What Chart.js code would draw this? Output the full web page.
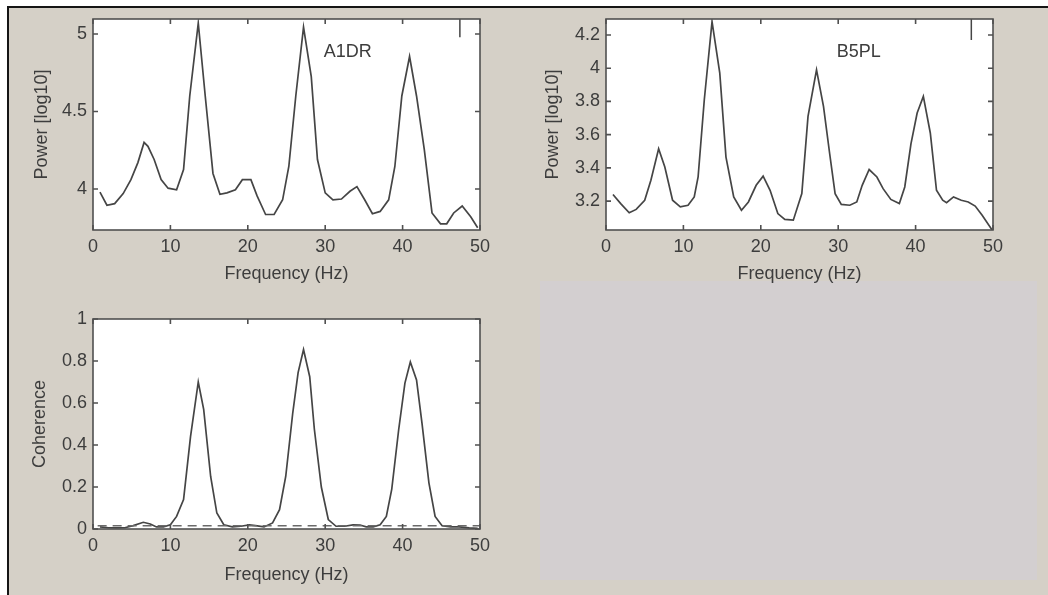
<!DOCTYPE html>
<html>
<head>
<meta charset="utf-8">
<script src="https://cdn.jsdelivr.net/npm/chart.js@4.4.0/dist/chart.umd.min.js"></script>
<style>
  html, body { margin: 0; padding: 0; }
  body { width: 1048px; height: 595px; background: #fff; position: relative; overflow: hidden; }
  #fig { position: absolute; left: 7px; top: 6px; width: 1041px; height: 589px; background: #d5d0c7;
         border-left: 2px solid #151515; border-top: 2px solid #151515; box-sizing: border-box; }
  #blank { position: absolute; left: 540px; top: 281px; width: 497px; height: 299px; background: #d3cfd0; }
  canvas { position: absolute; }
</style>
</head>
<body>
<div id="fig"></div>
<div id="blank"></div>
<canvas id="chartA" width="500" height="290" style="left:0;top:0"></canvas>
<canvas id="chartB" width="533" height="290" style="left:515px;top:0"></canvas>
<canvas id="chartC" width="500" height="305" style="left:0;top:290px"></canvas>
<script>
// ---- datos ----
const freqTicks = [0, 10, 20, 30, 40, 50];

// A1DR power spectrum
const freqA = [0.9, 1.8, 2.8, 3.9, 4.9, 5.8, 6.6, 7.1, 7.9, 8.8, 9.7, 10.8, 11.7, 12.5, 13.6, 14.5, 15.5, 16.4,
  17.3, 18.4, 19.3, 20.4, 21.2, 22.3, 23.4, 24.5, 25.3, 26.2, 27.2, 28.2, 29.0, 30.0, 31.0, 32.1, 33.2, 34.1,
  35.1, 36.1, 37.1, 38.2, 39.0, 39.9, 40.9, 41.8, 42.8, 43.8, 44.9, 45.7, 46.6, 47.7, 48.8, 49.7];
const powerA = [3.98, 3.895, 3.905, 3.97, 4.06, 4.17, 4.30, 4.275, 4.19, 4.06, 4.005, 3.995, 4.125, 4.6, 5.07, 4.6,
  4.10, 3.965, 3.975, 3.995, 4.06, 4.06, 3.955, 3.835, 3.835, 3.93, 4.145, 4.6, 5.045, 4.725, 4.19, 3.975, 3.93,
  3.935, 3.985, 4.015, 3.93, 3.84, 3.855, 3.93, 4.145, 4.6, 4.855, 4.6, 4.255, 3.845, 3.775, 3.775, 3.845, 3.89,
  3.82, 3.75];
const ticksA = [4, 4.5, 5];
const rangeA = [3.735, 5.097];
const markA = [[47.4, 5.097], [47.4, 4.98]];

// B5PL power spectrum
const freqB = [0.9, 1.9, 3.0, 3.9, 5.0, 5.8, 6.8, 7.6, 8.6, 9.6, 10.6, 11.4, 11.9, 12.7, 13.7, 14.7, 15.5, 16.5,
  17.5, 18.4, 19.4, 20.3, 21.2, 22.2, 23.1, 24.2, 25.3, 26.1, 27.2, 28.1, 28.9, 29.6, 30.4, 31.5, 32.4, 33.1,
  34.0, 35.0, 35.8, 36.8, 37.9, 38.6, 39.4, 40.2, 41.0, 41.9, 42.7, 43.5, 44.0, 44.9, 45.9, 46.8, 47.7, 48.6, 49.9];
const powerB = [3.24, 3.185, 3.13, 3.15, 3.205, 3.325, 3.515, 3.405, 3.205, 3.165, 3.175, 3.225, 3.345, 3.81, 4.28,
  3.97, 3.465, 3.225, 3.145, 3.195, 3.295, 3.35, 3.265, 3.125, 3.09, 3.085, 3.245, 3.71, 3.99, 3.77, 3.485, 3.245,
  3.18, 3.175, 3.195, 3.295, 3.39, 3.345, 3.275, 3.21, 3.185, 3.285, 3.545, 3.73, 3.83, 3.61, 3.265, 3.205, 3.19,
  3.225, 3.205, 3.195, 3.17, 3.115, 3.025];
const ticksB = [3.2, 3.4, 3.6, 3.8, 4, 4.2];
const rangeB = [3.026, 4.296];
const markB = [[47.2, 4.296], [47.2, 4.17]];

// coherence
const freqC = [0.9, 2.0, 3.0, 4.1, 5.2, 6.5, 7.4, 8.2, 9.1, 10.0, 10.8, 11.7, 12.6, 13.6, 14.3, 15.2, 16.0, 16.9,
  18.0, 19.1, 20.2, 21.0, 22.1, 23.2, 24.1, 24.9, 25.8, 26.5, 27.2, 28.0, 28.6, 29.5, 30.4, 31.4, 32.5, 33.6,
  34.5, 35.3, 36.2, 37.1, 37.9, 38.6, 39.5, 40.3, 41.0, 41.8, 42.5, 43.4, 44.2, 45.1, 46.2, 47.3, 48.6, 49.7];
const coh = [0.01, 0.006, 0.005, 0.006, 0.016, 0.032, 0.024, 0.01, 0.01, 0.02, 0.06, 0.14, 0.44, 0.70, 0.57,
  0.25, 0.076, 0.02, 0.01, 0.013, 0.02, 0.016, 0.01, 0.029, 0.092, 0.25, 0.55, 0.745, 0.855, 0.725, 0.475, 0.2,
  0.045, 0.013, 0.013, 0.02, 0.019, 0.01, 0.01, 0.02, 0.06, 0.19, 0.475, 0.695, 0.795, 0.71, 0.505, 0.22, 0.06,
  0.016, 0.01, 0.01, 0.005, 0.003];
const ticksC = [0, 0.2, 0.4, 0.6, 0.8, 1];
const cohLevelX = [0.6, 50];
const cohLevelY = [0.016, 0.016];

// ---- estilo ----
const INK = '#3d3d3d';
const LINE = '#454545';
Chart.defaults.font.family = '"Liberation Sans", Arial, sans-serif';
Chart.defaults.font.size = 18;
Chart.defaults.color = INK;

const pts = (xs, ys) => xs.map((x, i) => ({ x: x, y: ys[i] }));

// marco blanco + ticks hacia dentro (estilo MATLAB)
const matlabAxes = {
  id: 'matlabAxes',
  beforeDatasetsDraw(chart) {
    const { ctx, chartArea: a } = chart;
    ctx.save();
    ctx.fillStyle = '#ffffff';
    ctx.fillRect(a.left, a.top, a.right - a.left, a.bottom - a.top);
    ctx.restore();
  },
  afterDatasetsDraw(chart, args, opts) {
    const { ctx, chartArea: a, scales: { x, y } } = chart;
    ctx.save();
    ctx.strokeStyle = '#505050';
    ctx.lineWidth = 1.6;
    ctx.beginPath();
    x.ticks.forEach(t => {
      const px = x.getPixelForValue(t.value);
      ctx.moveTo(px, a.bottom); ctx.lineTo(px, a.bottom - 5);
      ctx.moveTo(px, a.top); ctx.lineTo(px, a.top + 5);
    });
    y.ticks.forEach(t => {
      const py = y.getPixelForValue(t.value);
      ctx.moveTo(a.left, py); ctx.lineTo(a.left + 5, py);
      ctx.moveTo(a.right, py); ctx.lineTo(a.right - 5, py);
    });
    ctx.stroke();
    ctx.strokeRect(a.left, a.top, a.right - a.left, a.bottom - a.top);
    if (opts.label) {
      ctx.fillStyle = INK;
      ctx.font = '18px "Liberation Sans", Arial, sans-serif';
      ctx.textAlign = 'left';
      ctx.textBaseline = 'middle';
      ctx.fillText(opts.label.text, x.getPixelForValue(opts.label.x), y.getPixelForValue(opts.label.y));
    }
    ctx.restore();
  }
};

function makeScales(c) {
  return {
    x: {
      type: 'linear', min: 0, max: 50,
      afterBuildTicks: s => { s.ticks = freqTicks.map(v => ({ value: v })); },
      afterFit: s => { s.height = c.xHeight; },
      grid: { display: false, drawTicks: false },
      border: { display: false },
      ticks: { padding: 6, maxRotation: 0, autoSkip: false, callback: v => String(v) },
      title: { display: true, text: 'Frequency (Hz)', color: INK, padding: { top: 0, bottom: c.xTitlePad } }
    },
    y: {
      type: 'linear', min: c.range[0], max: c.range[1],
      afterBuildTicks: s => { s.ticks = c.ticks.map(v => ({ value: v })); },
      afterFit: s => { s.width = c.yWidth; },
      grid: { display: false, drawTicks: false },
      border: { display: false },
      ticks: { padding: 6, autoSkip: false, callback: v => String(v) },
      title: { display: true, text: c.yTitle, color: INK, padding: { top: c.yTitlePad, bottom: 0 } }
    }
  };
}

function lineSet(data, extra) {
  return Object.assign({
    data: data, borderColor: LINE, borderWidth: 1.7, pointRadius: 0, tension: 0, fill: false
  }, extra || {});
}

function makeChart(id, sets, c) {
  return new Chart(document.getElementById(id), {
    type: 'line',
    data: { datasets: sets },
    options: {
      responsive: false, animation: false, parsing: true,
      layout: { padding: c.padding },
      plugins: { legend: { display: false }, tooltip: { enabled: false }, matlabAxes: { label: c.label } },
      scales: makeScales(c)
    },
    plugins: [matlabAxes]
  });
}

makeChart('chartA', [
  lineSet(pts(freqA, powerA)),
  lineSet(markA.map(p => ({ x: p[0], y: p[1] })), { borderWidth: 1.5 })
], {
  range: rangeA, ticks: ticksA, yTitle: 'Power [log10]',
  padding: { top: 19, right: 20, left: 0, bottom: 0 },
  xHeight: 60, xTitlePad: 5, yWidth: 93, yTitlePad: 31,
  label: { text: 'A1DR', x: 29.8, y: 4.884 }
});

makeChart('chartB', [
  lineSet(pts(freqB, powerB)),
  lineSet(markB.map(p => ({ x: p[0], y: p[1] })), { borderWidth: 1.5 })
], {
  range: rangeB, ticks: ticksB, yTitle: 'Power [log10]',
  padding: { top: 19, right: 55, left: 0, bottom: 0 },
  xHeight: 60, xTitlePad: 5, yWidth: 91, yTitlePad: 27,
  label: { text: 'B5PL', x: 29.8, y: 4.098 }
});

makeChart('chartC', [
  lineSet(pts(cohLevelX, cohLevelY), { borderColor: '#6a6a6a', borderWidth: 1.5, borderDash: [9, 6] }),
  lineSet(pts(freqC, coh))
], {
  range: [0, 1], ticks: ticksC, yTitle: 'Coherence',
  padding: { top: 29, right: 20, left: 0, bottom: 0 },
  xHeight: 66, xTitlePad: 9, yWidth: 93, yTitlePad: 29
});
</script>
</body>
</html>
